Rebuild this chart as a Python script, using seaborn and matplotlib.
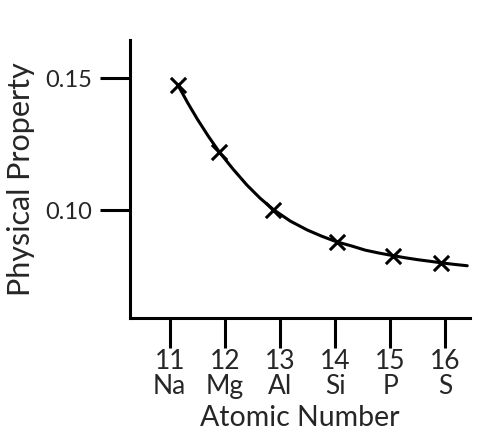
import numpy as np
import pandas as pd
import seaborn as sns
import matplotlib.pyplot as plt

# values
elements = ['Na', 'Mg', 'Al', 'Si', 'P', 'S']
atomic_numbers = [11, 12, 13, 14, 15, 16]
marker_x = [11.15, 11.90, 12.88, 14.04, 15.06, 15.93]
marker_y = [0.1473, 0.1220, 0.1002, 0.0879, 0.0827, 0.0800]

# points along the drawn curve (markers plus points read between them)
curve_x = [11.15, 11.33, 11.50, 11.70, 11.90, 12.15, 12.40, 12.64, 12.88,
           13.19, 13.50, 13.77, 14.04, 14.30, 14.55, 14.80, 15.06, 15.28,
           15.50, 15.72, 15.93, 16.17, 16.40]
curve_y = [0.1473, 0.1405, 0.1345, 0.1280, 0.1220, 0.1155, 0.1095, 0.1045, 0.1002,
           0.0958, 0.0924, 0.0900, 0.0879, 0.0864, 0.0848, 0.0837, 0.0827, 0.0819,
           0.0812, 0.0806, 0.0800, 0.0794, 0.0789]

markers = pd.DataFrame({'x': marker_x, 'y': marker_y})
curve = pd.DataFrame({'x': curve_x, 'y': curve_y})

sns.set_style("ticks")
plt.rcParams['font.family'] = ['Lato', 'DejaVu Sans']

fig = plt.figure(figsize=(5.0, 4.42), dpi=100)
ax = fig.add_axes([0.26, 0.2805, 0.68, 0.629])

sns.lineplot(data=curve, x='x', y='y', color='black', linewidth=2.2, ax=ax)
sns.scatterplot(data=markers, x='x', y='y', marker='x', s=120, color='black',
                linewidth=2.2, ax=ax, zorder=3)

ax.set_xlim(10.28, 16.45)
ax.set_ylim(0.0591, 0.1644)
ax.set_xticks(atomic_numbers)
ax.set_xticklabels([f"{n}\n{e}" for n, e in zip(atomic_numbers, elements)],
                   fontsize=19, linespacing=1.0)
ax.set_yticks([0.10, 0.15])
ax.set_yticklabels(['0.10', '0.15'], fontsize=17)

ax.tick_params(axis='both', direction='out', length=21.5, width=2.2, color='black')
ax.tick_params(axis='x', pad=1)
ax.tick_params(axis='y', pad=6)

for side in ['left', 'bottom']:
    ax.spines[side].set_linewidth(2.2)
    ax.spines[side].set_color('black')
sns.despine(ax=ax)

ax.set_xlabel('Atomic Number', fontsize=20.5, labelpad=4)
ax.set_ylabel('Physical Property', fontsize=22, labelpad=7)

plt.savefig("out.png", dpi=100)
